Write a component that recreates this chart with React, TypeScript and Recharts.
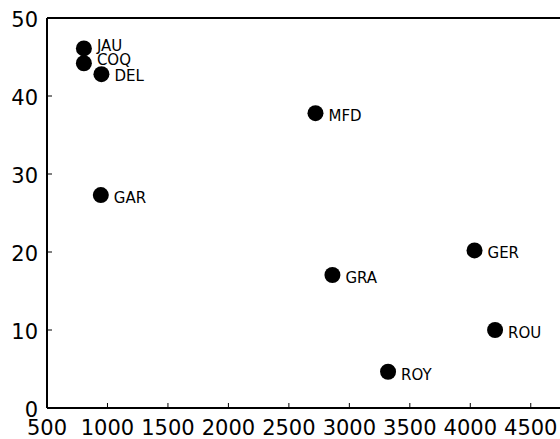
import React from 'react';
import { ScatterChart, Scatter, XAxis, YAxis } from 'recharts';

const names = ['JAU', 'COQ', 'DEL', 'MFD', 'GAR', 'GER', 'GRA', 'ROU', 'ROY'];
const xValues = [805, 805, 950, 2720, 945, 4035, 2860, 4205, 3320];
const yValues = [46.1, 44.2, 42.8, 37.8, 27.3, 20.2, 17.05, 10.0, 4.65];
const xTicks = [500, 1000, 1500, 2000, 2500, 3000, 3500, 4000, 4500];
const yTicks = [0, 10, 20, 30, 40, 50];

const labelDy: Record<string, number> = { JAU: 3, COQ: 2, DEL: 7 };

const data = names.map((n, i) => ({ name: n, x: xValues[i], y: yValues[i] }));

const FONT = 'DejaVu Sans';

const BottomTick = (p: any) => (
  <g>
    <line x1={p.x} x2={p.x} y1={p.y} y2={p.y - 5} stroke="#000" strokeWidth={1} />
    <text x={p.x} y={p.y + 27} textAnchor="middle" fontSize={21} fontFamily={FONT} fill="#000">
      {p.payload.value}
    </text>
  </g>
);
const TopTick = (p: any) => (
  <line x1={p.x} x2={p.x} y1={p.y} y2={p.y + 5} stroke="#000" strokeWidth={1} />
);
const LeftTick = (p: any) => (
  <g>
    <line x1={p.x} x2={p.x + 5} y1={p.y} y2={p.y} stroke="#000" strokeWidth={1} />
    <text x={p.x - 9} y={p.y + 8.5} textAnchor="end" fontSize={21} fontFamily={FONT} fill="#000">
      {p.payload.value}
    </text>
  </g>
);
const RightTick = (p: any) => (
  <line x1={p.x} x2={p.x - 5} y1={p.y} y2={p.y} stroke="#000" strokeWidth={1} />
);

const Dot = (p: any) => {
  const dy = labelDy[p.payload.name] ?? 8;
  return (
    <g>
      <circle cx={p.cx} cy={p.cy} r={8} fill="#000" />
      <text x={p.cx + 13} y={p.cy + dy} fontSize={15} fontFamily={FONT} fill="#000">
        {p.payload.name}
      </text>
    </g>
  );
};

export default function App() {
  const axisLine = { stroke: '#000', strokeWidth: 2 };
  return (
    <div style={{ position: 'fixed', left: 0, top: 0, width: 560, height: 439, overflow: 'hidden', background: '#fff' }}>
      <ScatterChart width={600} height={439} margin={{ top: 17, right: 38, bottom: 30, left: 46 }}>
        <XAxis
          xAxisId="b"
          type="number"
          dataKey="x"
          orientation="bottom"
          domain={[500, 4750]}
          ticks={xTicks}
          height={1}
          tickSize={0}
          tickMargin={0}
          tickLine={false}
          axisLine={axisLine}
          tick={<BottomTick />}
          interval={0}
        />
        <XAxis
          xAxisId="t"
          type="number"
          dataKey="x"
          orientation="top"
          domain={[500, 4750]}
          ticks={xTicks}
          height={1}
          tickSize={0}
          tickMargin={0}
          tickLine={false}
          axisLine={axisLine}
          tick={<TopTick />}
          interval={0}
        />
        <YAxis
          yAxisId="l"
          type="number"
          dataKey="y"
          orientation="left"
          domain={[0, 50]}
          ticks={yTicks}
          width={1}
          tickSize={0}
          tickMargin={0}
          tickLine={false}
          axisLine={axisLine}
          tick={<LeftTick />}
          interval={0}
        />
        <YAxis
          yAxisId="r"
          type="number"
          dataKey="y"
          orientation="right"
          domain={[0, 50]}
          ticks={yTicks}
          width={1}
          tickSize={0}
          tickMargin={0}
          tickLine={false}
          axisLine={axisLine}
          tick={<RightTick />}
          interval={0}
        />
        <Scatter xAxisId="b" yAxisId="l" data={data} shape={<Dot />} isAnimationActive={false} />
      </ScatterChart>
    </div>
  );
}
